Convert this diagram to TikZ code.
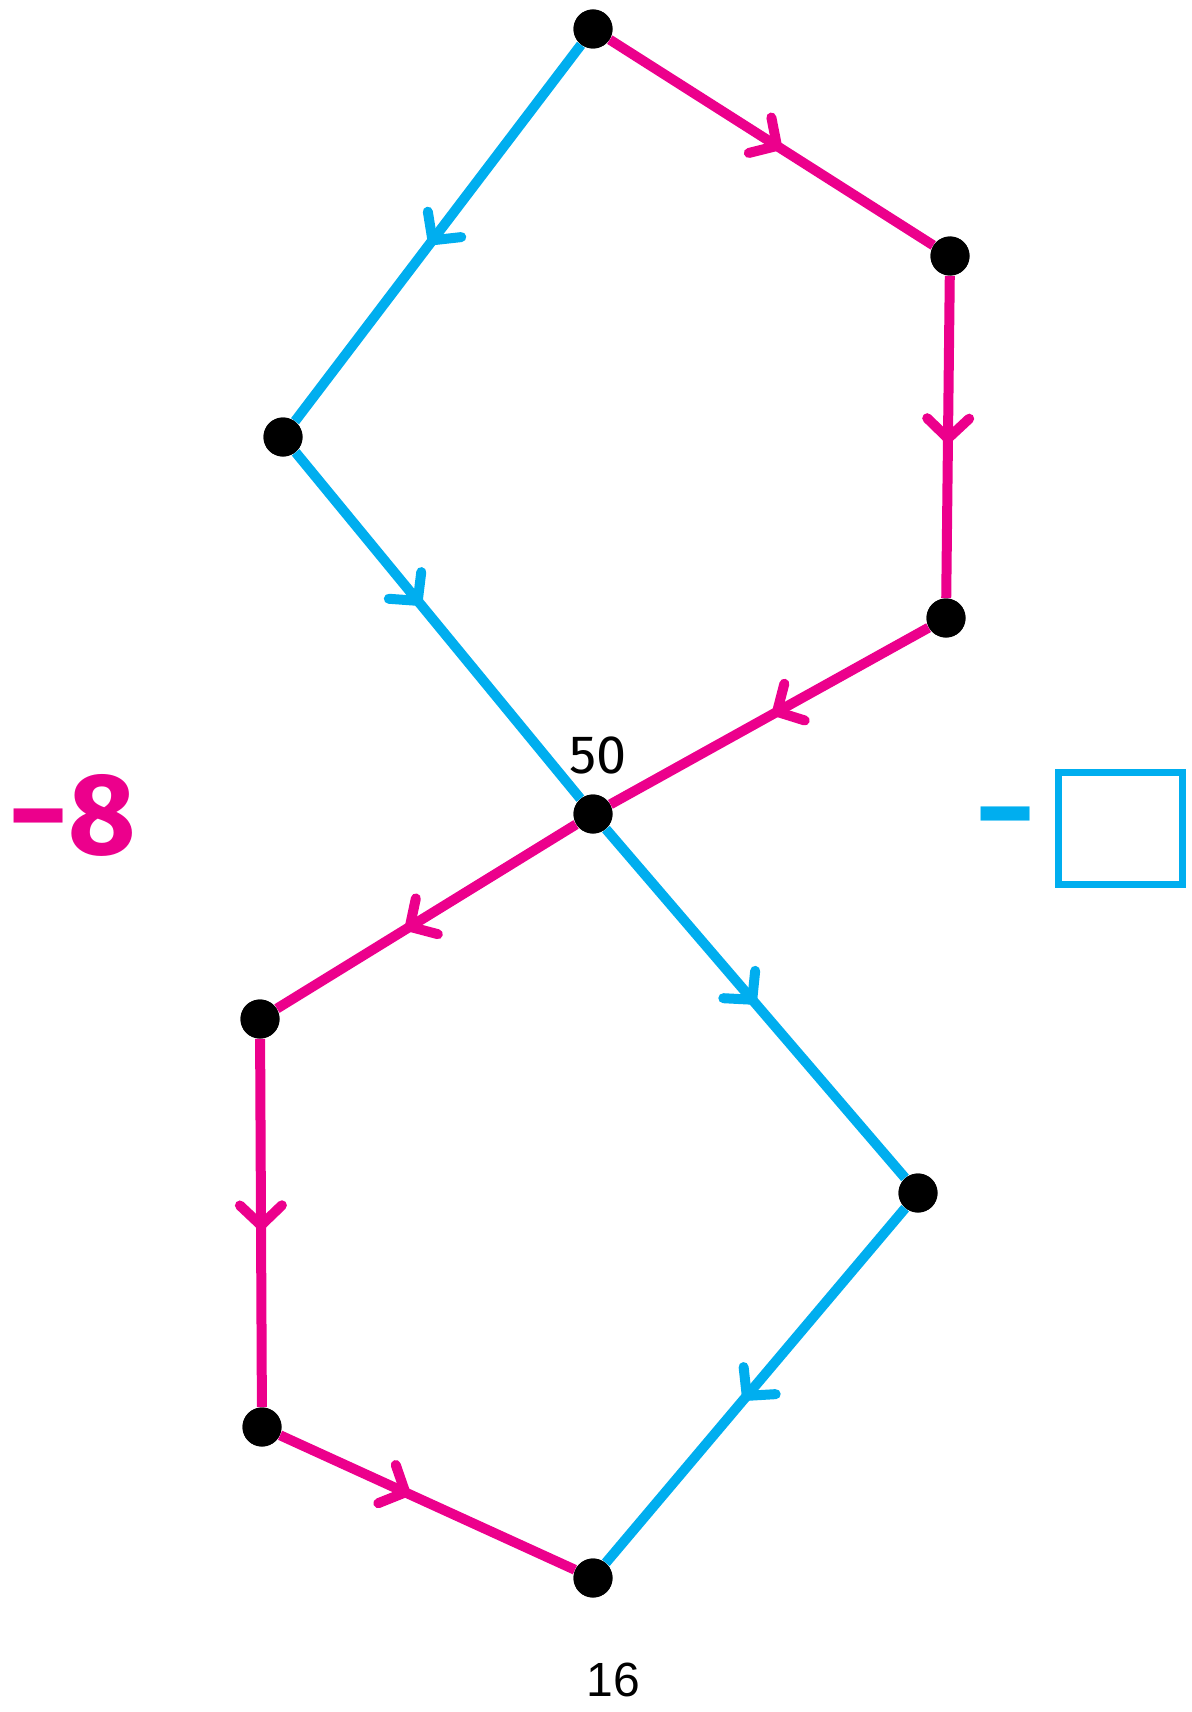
\documentclass[tikz,border=0pt]{standalone}
\usepackage{fontspec}
\usepackage{tikz}
\usetikzlibrary{arrows.meta, decorations.markings}
\definecolor{LoopPink}{HTML}{EC008C}
\definecolor{LoopCyan}{HTML}{00AEEF}
\newfontfamily\roundfont{Fira Sans}
\newfontfamily\plainfont{Liberation Sans}
\tikzset{
  dot/.style={circle, fill=black, inner sep=0pt, minimum size=19.5pt},
  arrowat/.style={postaction={decorate, decoration={markings,
      mark=at position #1 with {\arrow{Straight Barb[length=10pt, width=21pt, line cap=round, round]}}}}},
  pinkedge/.style={LoopPink, line width=5pt, arrowat=#1},
  cyanedge/.style={LoopCyan, line width=5pt, arrowat=#1}
}
\begin{document}
\begin{tikzpicture}[x=0.5pt, y=-0.5pt]
      \useasboundingbox (0,0) rectangle (1191,1712);
      % Vertices
      \node[dot] (top) at (593,29) {};
      \node[dot] (upright) at (950,256) {};
      \node[dot] (midright) at (946,618) {};
      \node[dot] (centre) at (593,814) {};
      \node[dot] (upleft) at (283,437) {};
      \node[dot] (lowleft) at (260,1019) {};
      \node[dot] (botleft) at (262,1427) {};
      \node[dot] (bottom) at (593,1578) {};
      \node[dot] (lowright) at (918,1193) {};
      % Cyan loop
      \draw[cyanedge=0.53] (top) -- (upleft);
      \draw[cyanedge=0.44] (upleft) -- (centre);
      \draw[cyanedge=0.5] (centre) -- (lowright);
      \draw[cyanedge=0.54] (lowright) -- (bottom);
      % Pink loop
      \draw[pinkedge=0.53] (top) -- (upright);
      \draw[pinkedge=0.52] (upright) -- (midright);
      \draw[pinkedge=0.49] (midright) -- (centre);
      \draw[pinkedge=0.57] (centre) -- (lowleft);
      \draw[pinkedge=0.52] (lowleft) -- (botleft);
      \draw[pinkedge=0.44] (botleft) -- (bottom);
      % Dots on top of the lines
      \foreach \v in {top,upright,midright,centre,upleft,lowleft,botleft,bottom,lowright}
        \fill (\v) circle (9.75pt);
      % Labels
      \node (fifty) at (598,755) {\roundfont\fontsize{27}{30}\selectfont 50};
      \node[LoopPink] (minuseight) at (72,815) {\roundfont\bfseries\fontsize{58}{64}\selectfont −8};
      \node[LoopCyan] (minus) at (1006,830) {\roundfont\bfseries\fontsize{58}{64}\selectfont −};
      \node[draw=LoopCyan, line width=3.5pt, minimum width=62pt, minimum height=56pt, inner sep=0pt] (blank) at (1120,828) {};
      \node (sixteen) at (613,1680) {\plainfont\fontsize{24}{28}\selectfont 16};
\end{tikzpicture}
\end{document}
